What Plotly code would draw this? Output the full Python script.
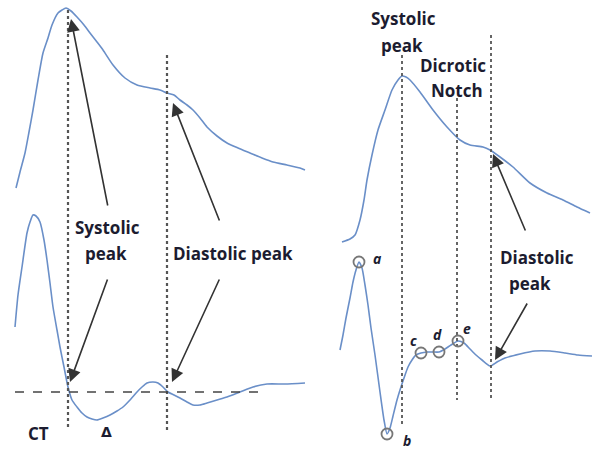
import plotly.graph_objects as go

# ---- data (diagram coordinates; y grows downward) ----
left_top_x = [16, 20, 25, 29, 33, 38, 43, 48, 52, 58, 62, 66, 71, 77, 84, 90, 97, 103, 113, 125, 137, 150, 160, 167, 174, 180, 187, 193, 200, 207, 217, 227, 238, 250, 262, 273, 287, 300, 305]
left_top_y = [188, 172, 153, 132, 110, 80, 53, 38, 25, 13, 10, 8, 11, 17, 25, 33, 42, 50, 65, 78, 85, 88, 90, 93, 95, 100, 105, 110, 118, 127, 136, 143, 148, 153, 158, 162, 165, 168, 170]

left_bot_x = [15, 18, 22, 27, 30, 33, 36, 40, 44, 47, 50, 53, 57, 60, 64, 68, 72, 77, 82, 87, 92, 97, 103, 110, 117, 123, 130, 137, 142, 147, 153, 158, 163, 168, 174, 180, 187, 193, 200, 207, 217, 227, 240, 253, 267, 285, 305]
left_bot_y = [327, 295, 267, 233, 222, 215, 216, 222, 240, 260, 283, 307, 330, 347, 367, 387, 400, 407, 413, 417, 419, 420, 418, 415, 411, 407, 400, 392, 387, 383, 382, 383, 387, 392, 395, 398, 402, 405, 405, 403, 400, 397, 392, 387, 384, 384, 383]

right_top_x = [342, 350, 355, 360, 364, 367, 372, 378, 385, 392, 398, 402, 406, 410, 420, 433, 447, 460, 470, 483, 490, 500, 513, 530, 547, 563, 577, 590]
right_top_y = [242, 239, 235, 220, 200, 180, 155, 130, 110, 90, 80, 76, 77, 80, 92, 110, 127, 140, 145, 147, 150, 157, 167, 183, 193, 200, 207, 213]

right_bot_x = [340, 343, 346, 350, 353, 356, 359, 362, 365, 368, 371, 375, 380, 384, 387, 390, 393, 397, 400, 404, 408, 412, 416, 421, 427, 433, 439, 445, 451, 458, 464, 470, 476, 482, 490, 497, 505, 520, 535, 550, 565, 578, 592]
right_bot_y = [350, 335, 318, 298, 282, 270, 262, 268, 285, 305, 328, 355, 392, 420, 434, 428, 416, 400, 390, 378, 367, 360, 355, 353, 352, 352, 352, 349, 345, 341, 343, 349, 355, 360, 366, 362, 358, 354, 351, 351, 353, 355, 356]

# reference guide lines
vline_x = [68, 167, 402, 457, 491]
vline_top = [10, 55, 55, 98, 35]
vline_bot = [430, 430, 425, 400, 400]
hline_y = 392
hline_x = [15, 260]

# feature points on right lower wave
pt_labels = ["a", "b", "c", "d", "e"]
pt_x = [359, 387, 421, 439, 458]
pt_y = [262, 434, 353, 352, 341]
pt_lab_x = [377, 407, 413, 437, 467]
pt_lab_y = [258, 440, 340, 334, 328]

# arrows: (tail_x, tail_y) -> (head_x, head_y)
arr_tail_x = [108, 220, 108, 220, 526, 528]
arr_tail_y = [207, 222, 278, 278, 232, 302]
arr_head_x = [71, 173, 70, 172, 493, 495]
arr_head_y = [19, 103, 382, 382, 154, 360]

# text labels
txt = ["Systolic", "peak", "Diastolic peak", "CT", "Δ",
       "Systolic", "peak", "Dicrotic", "Notch", "Diastolic", "peak"]
txt_x = [107, 106, 233, 38, 106, 403, 402, 453, 457, 537, 530]
txt_y = [227, 253, 253, 433, 432, 18, 45, 65, 90, 257, 283]

# ---- figure ----
blue = "#6a8fc8"
fig = go.Figure()
for xs, ys in [(left_top_x, left_top_y), (left_bot_x, left_bot_y),
               (right_top_x, right_top_y), (right_bot_x, right_bot_y)]:
    fig.add_trace(go.Scatter(x=xs, y=ys, mode="lines",
                             line=dict(color=blue, width=1.6, shape="spline", smoothing=0.6),
                             hoverinfo="skip", showlegend=False))

for i, (x, t, b) in enumerate(zip(vline_x, vline_top, vline_bot)):
    w = 2.2 if i < 2 else 1.8
    fig.add_trace(go.Scatter(x=[x, x], y=[t, b], mode="lines",
                             line=dict(color="#555555", width=w, dash="dot"),
                             hoverinfo="skip", showlegend=False))

fig.add_trace(go.Scatter(x=hline_x, y=[hline_y, hline_y], mode="lines",
                         line=dict(color="#444444", width=1.5, dash="dash"),
                         hoverinfo="skip", showlegend=False))

fig.add_trace(go.Scatter(x=pt_x, y=pt_y, mode="markers",
                         marker=dict(symbol="circle-open", size=11, color="#777777",
                                     line=dict(width=1.8, color="#777777")),
                         hoverinfo="skip", showlegend=False))

for lx, ly, lab in zip(pt_lab_x, pt_lab_y, pt_labels):
    fig.add_annotation(x=lx, y=ly, text="<b><i>" + lab + "</i></b>", showarrow=False,
                       font=dict(family="Open Sans", size=14, color="#1c1c30"))

for tx, ty, hx, hy in zip(arr_tail_x, arr_tail_y, arr_head_x, arr_head_y):
    fig.add_annotation(x=hx, y=hy, ax=tx, ay=ty, xref="x", yref="y", axref="x", ayref="y",
                       text="", showarrow=True, arrowhead=2, arrowsize=1.6,
                       arrowwidth=1.6, arrowcolor="#333333")

for t, x, y in zip(txt, txt_x, txt_y):
    size = 17
    fam = "DejaVu Sans" if t == "Δ" else "Open Sans"
    fig.add_annotation(x=x, y=y, text="<b>" + t + "</b>", showarrow=False,
                       font=dict(family=fam, size=size if t != "Δ" else 14, color="#1c1c30"))

fig.update_layout(
    width=592, height=450,
    margin=dict(l=0, r=0, t=0, b=0),
    paper_bgcolor="white", plot_bgcolor="white",
    xaxis=dict(range=[0, 592], visible=False, fixedrange=True),
    yaxis=dict(range=[450, 0], visible=False, fixedrange=True),
)
fig.write_html("out.html", config={"displayModeBar": False},
               post_script="document.body.style.margin='0';document.body.style.overflow='hidden';")
